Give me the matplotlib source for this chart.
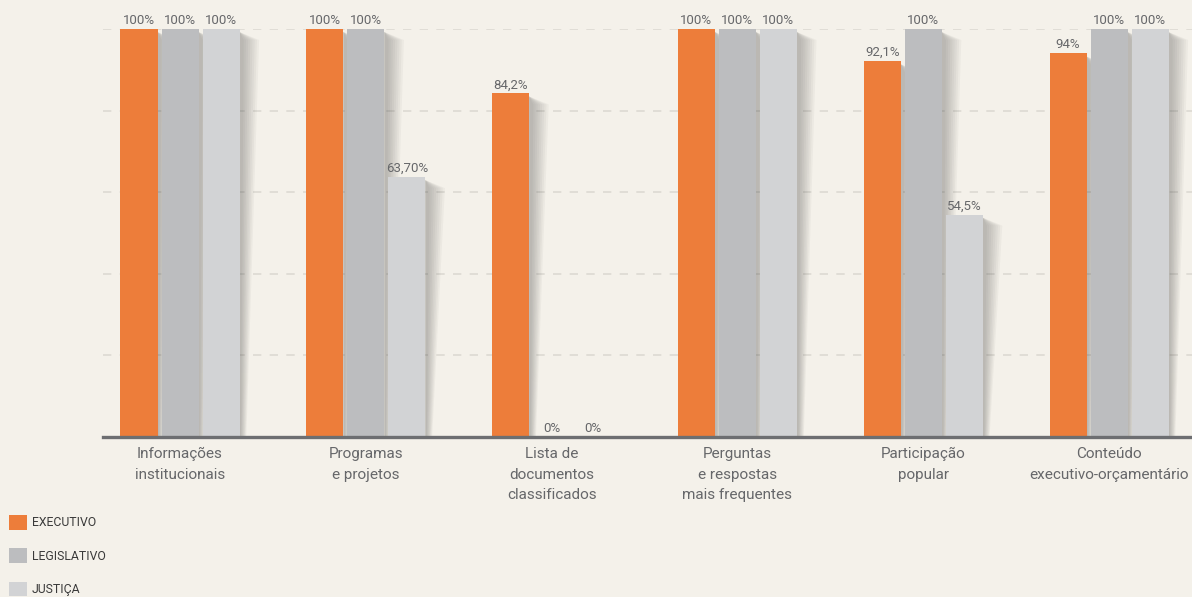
import matplotlib
matplotlib.use("Agg")
import matplotlib.pyplot as plt
from matplotlib.patches import Polygon, Patch
import numpy as np

plt.rcParams['font.family'] = ['Roboto', 'DejaVu Sans']

categories = ["Informações\ninstitucionais", "Programas\ne projetos",
              "Lista de\ndocumentos\nclassificados",
              "Perguntas\ne respostas\nmais frequentes",
              "Participação\npopular", "Conteúdo\nexecutivo-orçamentário"]
series = ["EXECUTIVO", "LEGISLATIVO", "JUSTIÇA"]
executivo = [100, 100, 84.2, 100, 92.1, 94]
legislativo = [100, 100, 0, 100, 100, 100]
justica = [100, 63.7, 0, 100, 54.5, 100]
lab_exec = ["100%", "100%", "84,2%", "100%", "92,1%", "94%"]
lab_leg = ["100%", "100%", "0%", "100%", "100%", "100%"]
lab_jus = ["100%", "63,70%", "0%", "100%", "54,5%", "100%"]

colors = ["#ed7d3a", "#bcbdbf", "#d2d3d5"]
bg = "#f4f1ea"
txt = "#66676a"

fig = plt.figure(figsize=(11.92, 5.97), dpi=100, facecolor=bg)
ax = fig.add_axes([103/1192, 160/597, 1 - 103/1192, 408/597], facecolor=bg)

x = np.arange(len(categories))
step_px = 185.8
px = 1 / step_px          # one pixel in x data units
py = 100 / 408            # one pixel in y data units
w = 37 * px
off = 41 * px

for i, (vals, labs) in enumerate([(executivo, lab_exec), (legislativo, lab_leg), (justica, lab_jus)]):
    xs = x + (i - 1) * off
    # soft drop shadow to the right of each bar
    for xi, v in zip(xs, vals):
        if v <= 0:
            continue
        right = xi + w / 2
        top = v - 3 * py
        for k in range(1, 9):
            sw = (2 + 2.2 * k) * px
            poly = Polygon([(right, top), (right + sw, top - 8 * py),
                            (right + sw * 0.35, 0), (right, 0)],
                           closed=True, facecolor="#3c3c3c", alpha=0.045,
                           edgecolor="none", zorder=1)
            ax.add_patch(poly)
    ax.bar(xs, vals, width=w, color=colors[i], zorder=2, label=series[i])
    for xi, v, lb in zip(xs, vals, labs):
        ax.annotate(lb, (xi, v), xytext=(0, 1.5), textcoords="offset points",
                    ha="center", va="bottom", fontsize=9.5, color=txt,
                    annotation_clip=False)

ax.set_xlim(-77 * px, (1192 - 180) * px)
ax.set_ylim(0, 100)
ax.set_yticks([20, 40, 60, 80, 100])
ax.yaxis.grid(True, color="#dcd9d2", linestyle=(0, (5, 5)), linewidth=1.2, zorder=0)
ax.set_axisbelow(True)
ax.tick_params(axis="y", left=False, labelleft=False)
ax.tick_params(axis="x", bottom=False, pad=3.5)
ax.set_xticks(x)
ax.set_xticklabels(categories, fontsize=11, color=txt, linespacing=1.62)
for s in ["top", "right", "left"]:
    ax.spines[s].set_visible(False)
ax.spines["bottom"].set_color("#6d6e71")
ax.spines["bottom"].set_linewidth(2.4)
ax.spines["bottom"].set_zorder(5)

handles = [Patch(facecolor=c, edgecolor="none") for c in colors]
fig.legend(handles, series, loc="upper left", bbox_to_anchor=(9/1192, 82/597),
           frameon=False, fontsize=8.8, handlelength=1.45, handleheight=1.45,
           labelspacing=1.55, handletextpad=0.4, borderpad=0, borderaxespad=0,
           labelcolor="#3a3a3a")

fig.savefig("out.png", dpi=100, facecolor=bg)
